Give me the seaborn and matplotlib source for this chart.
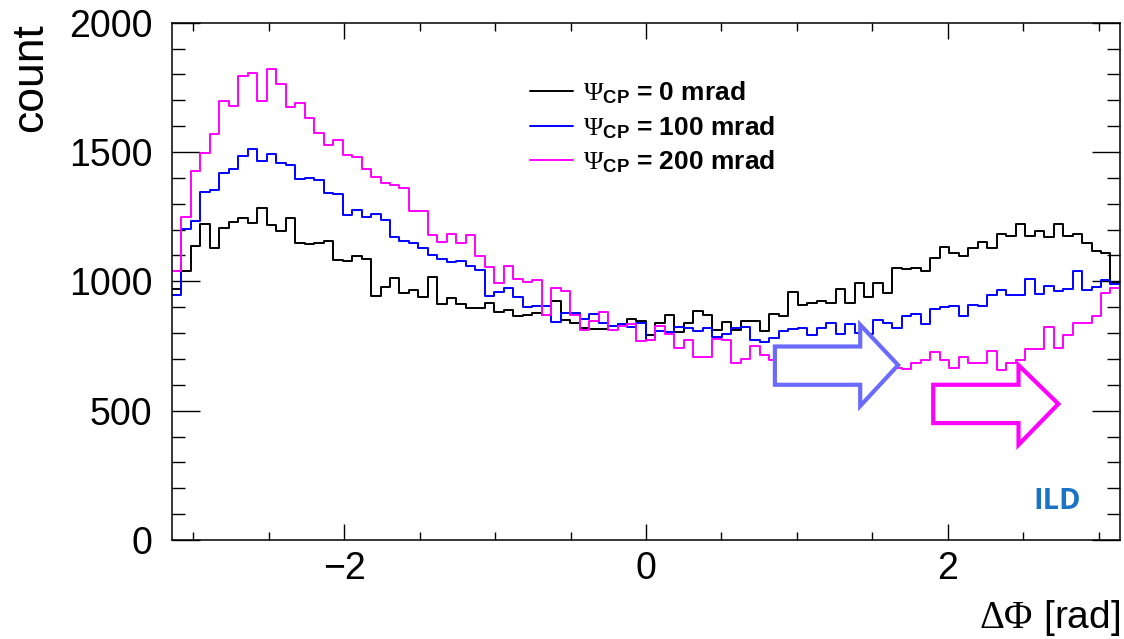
import numpy as np
import pandas as pd
import matplotlib
matplotlib.use("Agg")
import matplotlib.pyplot as plt
from matplotlib.lines import Line2D
from matplotlib.patches import Polygon
from matplotlib.ticker import MultipleLocator
import seaborn as sns

# 100 bins in delta phi from -pi to pi, counts
n_bins = 100

psi_labels = [r"$\Psi_{\mathbf{CP}}$ = 0 mrad",
              r"$\Psi_{\mathbf{CP}}$ = 100 mrad",
              r"$\Psi_{\mathbf{CP}}$ = 200 mrad"]
line_colors = ["#000000", "#0000ff", "#ff00ff"]

counts_0 = [969, 1041, 1138, 1221, 1128, 1205, 1230, 1243, 1227, 1285,
            1216, 1195, 1246, 1150, 1143, 1150, 1157, 1083, 1079, 1096,
            1087, 945, 977, 1011, 956, 967, 938, 1018, 913, 937,
            913, 898, 898, 915, 883, 889, 866, 870, 877, 870,
            925, 851, 838, 819, 815, 815, 829, 834, 853, 848,
            793, 838, 870, 803, 838, 887, 870, 812, 844, 812,
            848, 848, 809, 874, 864, 958, 909, 915, 922, 915,
            969, 915, 993, 940, 993, 954, 1051, 1047, 1051, 1038,
            1089, 1134, 1109, 1096, 1128, 1151, 1128, 1183, 1176, 1221,
            1176, 1196, 1170, 1221, 1176, 1183, 1147, 1119, 1109, 999]

counts_100 = [947, 1203, 1234, 1347, 1353, 1417, 1433, 1486, 1512, 1467,
              1493, 1459, 1451, 1396, 1400, 1390, 1343, 1338, 1257, 1277,
              1250, 1259, 1237, 1170, 1156, 1147, 1130, 1102, 1088, 1076,
              1079, 1060, 1044, 944, 958, 973, 941, 902, 905, 906,
              842, 877, 877, 855, 873, 838, 829, 834, 822, 838,
              773, 806, 803, 825, 818, 806, 818, 786, 797, 818,
              822, 773, 767, 780, 809, 815, 818, 793, 818, 838,
              797, 835, 800, 797, 851, 838, 818, 866, 874, 834,
              893, 900, 905, 864, 909, 906, 947, 967, 947, 947,
              1008, 951, 980, 964, 969, 1038, 967, 977, 1005, 990]

counts_200 = [1041, 1250, 1428, 1495, 1569, 1696, 1678, 1792, 1807, 1699,
              1820, 1761, 1674, 1691, 1632, 1575, 1527, 1547, 1489, 1481,
              1436, 1405, 1382, 1374, 1361, 1272, 1270, 1179, 1151, 1183,
              1150, 1179, 1096, 1057, 995, 1060, 1009, 999, 1005, 870,
              976, 964, 870, 810, 848, 883, 810, 829, 834, 771,
              773, 828, 795, 744, 773, 709, 709, 776, 773, 683,
              699, 748, 715, 696, 705, 690, 700, 712, 695, 700,
              688, 705, 698, 690, 700, 685, 664, 660, 683, 696,
              728, 696, 664, 706, 683, 683, 732, 657, 683, 696,
              737, 740, 825, 741, 791, 838, 840, 866, 956, 973]

edges = np.linspace(-np.pi, np.pi, n_bins + 1)
centers = 0.5 * (edges[:-1] + edges[1:])

df = pd.DataFrame({
    "dphi": np.tile(centers, 3),
    "count": np.concatenate([counts_0, counts_100, counts_200]).astype(float),
    "psi": np.repeat(psi_labels, n_bins),
})

sns.set_style("ticks")
plt.rcParams["font.family"] = ["Liberation Sans", "DejaVu Sans"]
plt.rcParams["mathtext.fontset"] = "custom"
plt.rcParams["mathtext.rm"] = "Liberation Serif"
plt.rcParams["mathtext.it"] = "Liberation Serif:italic"
plt.rcParams["mathtext.bf"] = "Liberation Sans:bold"
for key in ["text.color", "axes.labelcolor", "xtick.color", "ytick.color",
            "axes.edgecolor"]:
    plt.rcParams[key] = "black"

fig = plt.figure(figsize=(11.24, 6.39), dpi=100)
ax = fig.add_axes([0.153, 0.155, 0.8434, 0.8095])

for lab, col in zip(psi_labels, line_colors):
    sub = df[df["psi"] == lab]
    sns.histplot(x=sub["dphi"].to_numpy(), weights=sub["count"].to_numpy(),
                 bins=n_bins, binrange=(-np.pi, np.pi), element="step",
                 fill=False, color=col, linewidth=1.4, ax=ax)

ax.set_xlim(-np.pi, np.pi)
ax.set_ylim(0, 2000)
ax.xaxis.set_major_locator(MultipleLocator(2))
ax.xaxis.set_minor_locator(MultipleLocator(0.5))
ax.yaxis.set_major_locator(MultipleLocator(500))
ax.yaxis.set_minor_locator(MultipleLocator(100))
ax.tick_params(which="both", direction="in", top=True, right=True,
               width=1.0, labelsize=27, colors="black")
ax.xaxis.set_tick_params(which="major", length=11.5, pad=8)
ax.xaxis.set_tick_params(which="minor", length=5.8)
ax.yaxis.set_tick_params(which="major", length=20, pad=14)
ax.yaxis.set_tick_params(which="minor", length=9.4)
for sp in ax.spines.values():
    sp.set_linewidth(1.1)
    sp.set_color("black")
    sp.set_visible(True)

ax.set_xlabel(r"$\Delta\Phi$ [rad]", fontsize=28, loc="right", va="baseline")
ax.xaxis.set_label_coords(1.0, -0.171)
ax.set_ylabel("count", fontsize=32, loc="top")
ax.yaxis.set_label_coords(-0.128, 1.0)

handles = [Line2D([], [], color=c, lw=1.4) for c in line_colors]
ax.legend(handles, psi_labels, loc="upper left", bbox_to_anchor=(0.378, 0.89),
          frameon=False, borderpad=0, borderaxespad=0, handlelength=1.63,
          handletextpad=0.35, labelspacing=0.3,
          prop={"family": "Liberation Sans", "weight": "bold", "size": 19})

# hollow arrows (white filled, drawn over the histograms)
blue_arrow = [(0.636, 0.374), (0.726, 0.374), (0.726, 0.416), (0.766, 0.338),
              (0.726, 0.259), (0.726, 0.300), (0.636, 0.300)]
pink_arrow = [(0.803, 0.300), (0.893, 0.300), (0.893, 0.338), (0.935, 0.263),
              (0.893, 0.184), (0.893, 0.226), (0.803, 0.226)]
ax.add_patch(Polygon(blue_arrow, closed=True, transform=ax.transAxes,
                     facecolor="white", edgecolor="#6a6aff", lw=3, zorder=5,
                     joinstyle="miter"))
ax.add_patch(Polygon(pink_arrow, closed=True, transform=ax.transAxes,
                     facecolor="white", edgecolor="#ff00ff", lw=3, zorder=5,
                     joinstyle="miter"))

ax.text(0.934, 0.075, "ILD", transform=ax.transAxes, ha="center", va="center",
        fontsize=21, fontweight="bold", color="#1a73c4",
        family=["Open Sans", "DejaVu Sans"])

fig.savefig("out.png", dpi=100)
